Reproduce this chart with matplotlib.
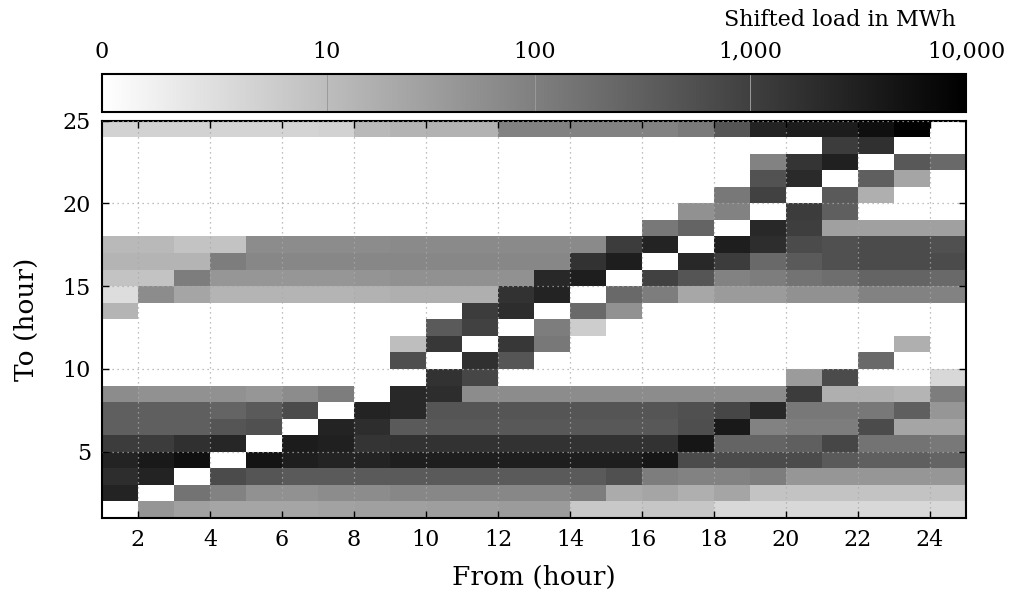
import numpy as np
import matplotlib
matplotlib.use("Agg")
import matplotlib.pyplot as plt
from matplotlib.colors import FuncNorm

plt.rcParams['font.family'] = 'DejaVu Serif'

# hours (cell i covers [h, h+1])
from_hours = list(range(1, 25))
to_hours = list(range(1, 25))

# shifted load in MWh, one row per "to" hour (row 0 = to hour 1), columns = "from" hour 1..24
shifted_load = [
    [0, 45, 30, 25, 25, 25, 28, 30, 30, 32, 32, 36, 36, 6.3, 6.3, 6.8, 6.8, 3.2, 3.2, 3.2, 3.2, 3.2, 3.2, 3.2],
    [2800, 0, 156, 90, 52, 52, 63, 63, 75, 75, 75, 75, 75, 108, 20, 25, 17, 25, 7.7, 7.7, 7.7, 7.7, 7.7, 7.7],
    [1970, 2820, 0, 666, 464, 387, 387, 387, 387, 387, 387, 387, 387, 387, 556, 108, 90, 90, 108, 43, 43, 43, 43, 43],
    [2820, 4050, 5800, 0, 4850, 3380, 2820, 2820, 3380, 3380, 3380, 3380, 3380, 3380, 3380, 4500, 666, 666, 666, 666, 387, 323, 323, 270],
    [1145, 1145, 1770, 2500, 0, 3640, 3150, 1530, 1640, 1640, 1640, 1640, 1640, 1640, 1640, 1640, 4500, 270, 270, 323, 798, 156, 156, 130],
    [323, 323, 323, 464, 556, 0, 2820, 1970, 387, 417, 417, 417, 417, 417, 417, 417, 597, 4050, 90, 108, 108, 666, 25, 25],
    [323, 323, 323, 270, 387, 666, 0, 2820, 2360, 464, 464, 464, 464, 464, 464, 464, 556, 798, 2360, 130, 130, 130, 323, 43],
    [63, 52, 52, 52, 43, 63, 108, 0, 2360, 1970, 63, 63, 63, 63, 63, 63, 63, 63, 63, 1145, 17, 17, 14, 108],
    [0, 0, 0, 0, 0, 0, 0, 0, 0, 1640, 800, 0, 0, 0, 0, 0, 0, 0, 0, 36, 666, 0, 0, 3.2],
    [0, 0, 0, 0, 0, 0, 0, 0, 600, 0, 1770, 464, 0, 0, 0, 0, 0, 0, 0, 0, 0, 225, 0, 0],
    [0, 0, 0, 0, 0, 0, 0, 0, 9.5, 1370, 0, 1370, 130, 0, 0, 0, 0, 0, 0, 0, 0, 0, 17, 0],
    [0, 0, 0, 0, 0, 0, 0, 0, 0, 387, 955, 0, 108, 5.1, 0, 0, 0, 0, 0, 0, 0, 0, 0, 0],
    [14, 0, 0, 0, 0, 0, 0, 0, 0, 0, 1145, 1970, 0, 225, 52, 0, 0, 0, 0, 0, 0, 0, 0, 0],
    [2.5, 63, 25, 14, 14, 14, 14, 15, 17, 17, 17, 1640, 2820, 0, 225, 108, 23, 36, 36, 52, 52, 90, 90, 90],
    [7.7, 7.7, 108, 43, 43, 43, 43, 46, 52, 52, 52, 52, 2360, 3380, 0, 955, 464, 90, 108, 156, 188, 270, 270, 225],
    [14, 14, 14, 108, 75, 75, 75, 75, 75, 75, 75, 75, 75, 1640, 3380, 0, 2360, 1145, 225, 387, 556, 666, 666, 666],
    [11.5, 11.5, 7.7, 7.7, 63, 63, 63, 63, 67, 67, 67, 67, 67, 67, 1145, 2820, 0, 3380, 1970, 666, 556, 666, 666, 556],
    [0, 0, 0, 0, 0, 0, 0, 0, 0, 0, 0, 0, 0, 0, 0, 130, 270, 0, 2360, 1065, 30, 30, 30, 30],
    [0, 0, 0, 0, 0, 0, 0, 0, 0, 0, 0, 0, 0, 0, 0, 0, 52, 90, 0, 1145, 323, 0, 0, 0],
    [0, 0, 0, 0, 0, 0, 0, 0, 0, 0, 0, 0, 0, 0, 0, 0, 0, 130, 955, 0, 387, 17, 0, 0],
    [0, 0, 0, 0, 0, 0, 0, 0, 0, 0, 0, 0, 0, 0, 0, 0, 0, 0, 517, 2190, 0, 323, 25, 0],
    [0, 0, 0, 0, 0, 0, 0, 0, 0, 0, 0, 0, 0, 0, 0, 0, 0, 0, 90, 1530, 3150, 0, 417, 225],
    [0, 0, 0, 0, 0, 0, 0, 0, 0, 0, 0, 0, 0, 0, 0, 0, 0, 0, 0, 0, 1145, 1770, 0, 0],
    [4.1, 4.1, 4.1, 3.8, 3.8, 3.8, 4.1, 11.5, 14, 15, 15, 90, 90, 90, 90, 90, 121, 464, 2820, 3640, 3640, 5800, 9000, 0],
]

x_ticks = list(range(2, 25, 2))
y_ticks = [5, 10, 15, 20, 25]
cbar_ticks = [0, 10, 100, 1000, 10000]
cbar_labels = ['0', '10', '100', '1,000', '10,000']

W, H = 1012, 601
fig = plt.figure(figsize=(W / 100, H / 100), dpi=100)
ax = fig.add_axes([102 / W, (H - 518) / H, 864 / W, 397.5 / H])
cax = fig.add_axes([102 / W, (H - 112.5) / H, 864 / W, 38.5 / H])

# log(1 + x) colour scale
norm = FuncNorm((lambda v: np.log10(1 + np.asarray(v, dtype=float)),
                 lambda t: 10 ** np.asarray(t, dtype=float) - 1), vmin=0, vmax=10000)

x_edges = np.append(from_hours, from_hours[-1] + 1)
y_edges = np.append(to_hours, to_hours[-1] + 1)
mesh = ax.pcolormesh(x_edges, y_edges, np.array(shifted_load), cmap='gray_r', norm=norm)

ax.set_xlim(x_edges[0], x_edges[-1])
ax.set_ylim(y_edges[0], y_edges[-1])
ax.set_xticks(x_ticks)
ax.set_yticks(y_ticks)
ax.tick_params(direction='in', top=True, right=True, length=5, width=1, labelsize=16, pad=8)
ax.grid(True, color='#aaaaaa', linestyle=(0, (1, 3)), linewidth=0.9)
ax.set_axisbelow(False)
for s in ax.spines.values():
    s.set_linewidth(1.5)
ax.set_xlabel('From (hour)', fontsize=19, labelpad=10)
ax.set_ylabel('To (hour)', fontsize=19, labelpad=17)

cb = fig.colorbar(mesh, cax=cax, orientation='horizontal')
cb.set_ticks(cbar_ticks)
cb.set_ticklabels(cbar_labels)
cax.minorticks_off()
cax.xaxis.set_ticks_position('top')
cax.tick_params(direction='in', length=27, width=0.7, color='#9a9a9a', labelsize=16, pad=8,
                top=True, bottom=False)
cb.outline.set_linewidth(1.5)
fig.text(956 / W, 1 - 20 / H, 'Shifted load in MWh', ha='right', va='center', fontsize=16)

fig.savefig('out.png', dpi=100)
